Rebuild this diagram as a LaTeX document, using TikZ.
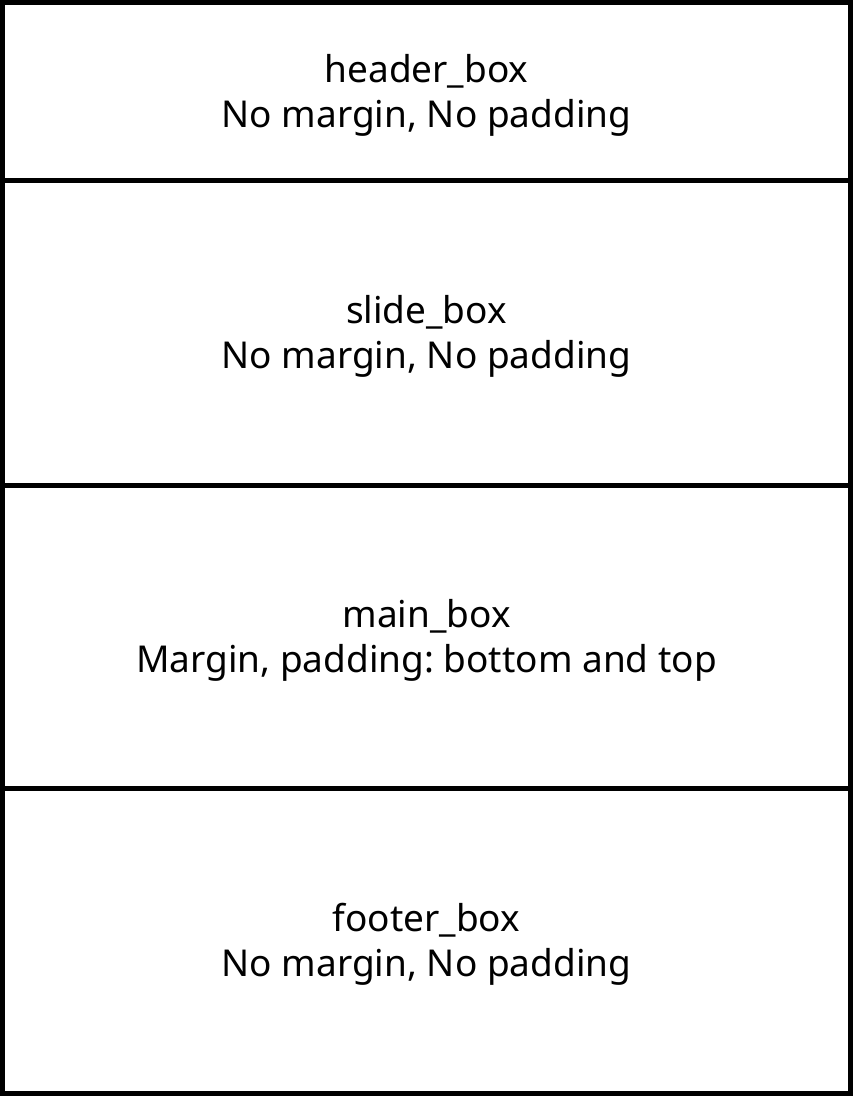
\documentclass[tikz,border=0pt]{standalone}
\usepackage{fontspec}
\setmainfont{Noto Sans}
\frenchspacing
\begin{document}
\begin{tikzpicture}[x=1pt,y=-1pt,
  boxst/.style={draw=black,line width=5pt},
  lbl/.style={align=center,font=\fontsize{37}{45}\selectfont,inner sep=0pt}]
\useasboundingbox (0,0) rectangle (853,1096);
\draw[boxst] (2.5,2.5) rectangle (850.5,180.5);
\draw[boxst] (2.5,180.5) rectangle (850.5,485);
\draw[boxst] (2.5,485) rectangle (850.5,788.5);
\draw[boxst] (2.5,788.5) rectangle (850.5,1093.5);
\node[lbl] (h) at (426.5,95) {header\_box\\No margin, No padding};
\node[lbl] (s) at (426.5,336) {slide\_box\\No margin, No padding};
\node[lbl] (m) at (426.5,640) {main\_box\\Margin, padding: bottom and top};
\node[lbl] (f) at (426.5,944) {footer\_box\\No margin, No padding};
\end{tikzpicture}
\end{document}
